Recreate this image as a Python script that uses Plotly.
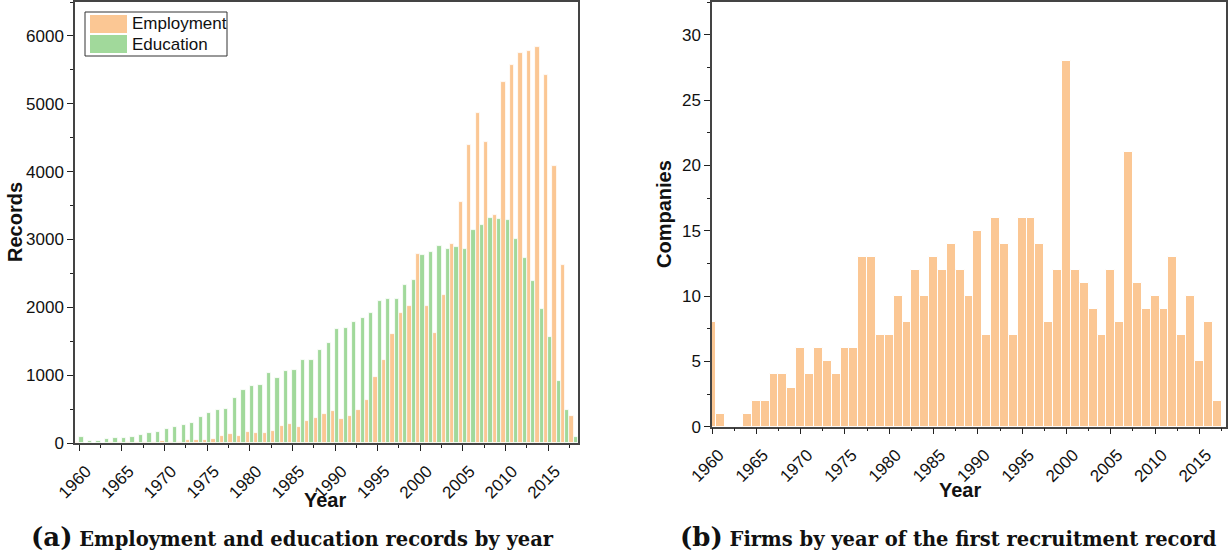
import plotly.graph_objects as go

W, H = 1228, 554


def px(x):
    return x / W


def py(y):
    return 1 - y / H


years_a = list(range(1960, 2019))
employment = [8, 3, 5, 5, 8, 10, 12, 18, 22, 20, 28, 22, 20, 42, 38, 45, 52, 108, 133, 98,
              162, 148, 152, 182, 246, 285, 241, 330, 369, 428, 477, 349, 403, 492, 635, 969,
              1230, 1609, 1919, 2012, 2780, 2017, 1619, 2180, 2927, 3557, 4388, 4866, 4433,
              3360, 5318, 5569, 5747, 5781, 5830, 5427, 4079, 2622, 394]
education = [88, 25, 34, 54, 69, 79, 88, 123, 152, 162, 211, 231, 261, 295, 389, 438, 482,
             502, 664, 777, 836, 861, 1033, 954, 1058, 1082, 1230, 1230, 1377, 1476, 1683,
             1697, 1786, 1840, 1919, 2091, 2120, 2116, 2327, 2396, 2770, 2814, 2903, 2863,
             2883, 2858, 3139, 3208, 3321, 3296, 3291, 3011, 2731, 2381, 1973, 1565, 920,
             492, 93]

years_b = list(range(1960, 2018))
companies = [8, 1, 0, 0, 1, 2, 2, 4, 4, 3, 6, 4, 6, 5, 4, 6, 6, 13, 13, 7, 7, 10, 8, 12,
             10, 13, 12, 14, 12, 10, 15, 7, 16, 14, 7, 16, 16, 14, 8, 12, 28, 12, 11, 9, 7,
             12, 8, 21, 11, 9, 10, 9, 13, 7, 10, 5, 8, 2]

series_names = ["Employment", "Education"]
x_ticks = list(range(1960, 2016, 5))

ORANGE = "#FBC794"
GREEN = "#A1D99B"
AXC = "#444444"
FONT = "Liberation Sans, Arial, sans-serif"

fig = go.Figure()
fig.add_trace(go.Bar(x=years_a, y=employment, name=series_names[0], marker_color=ORANGE,
                     marker_line=dict(color="white", width=0.8), xaxis="x", yaxis="y",
                     offsetgroup="emp", showlegend=False))
fig.add_trace(go.Bar(x=years_a, y=education, name=series_names[1], marker_color=GREEN,
                     marker_line=dict(color="white", width=0.8), xaxis="x", yaxis="y",
                     offsetgroup="edu", showlegend=False))
fig.add_trace(go.Bar(x=years_b, y=companies, name="Companies", marker_color=ORANGE,
                     marker_line=dict(color="white", width=1), xaxis="x2", yaxis="y2",
                     width=1, offset=-0.5, showlegend=False))


def xaxis_common(dom, rng):
    return dict(domain=dom, range=rng, tickmode="array", tickvals=x_ticks,
                ticktext=[str(v) for v in x_ticks], tickangle=-45, automargin=False,
                ticks="outside", ticklen=6, tickwidth=1.2, tickcolor="#222",
                ticklabelshift=7, ticklabelstandoff=4,
                showline=True, linecolor=AXC, linewidth=1.5, mirror=True,
                showgrid=False, zeroline=False,
                tickfont=dict(family=FONT, size=17, color="#111"),
                minor=dict(tickmode="linear", tick0=1960, dtick=2.5, ticks="outside",
                           ticklen=3, tickwidth=1, tickcolor="#222", showgrid=False))


def yaxis_common(dom, rng, dtick, mdtick, anchor):
    return dict(domain=dom, range=rng, dtick=dtick, tick0=0, anchor=anchor,
                automargin=False,
                ticks="outside", ticklen=6, tickwidth=1.2, tickcolor="#222",
                showline=True, linecolor=AXC, linewidth=1.5, mirror=True,
                showgrid=False, zeroline=False,
                tickfont=dict(family=FONT, size=17, color="#111"),
                minor=dict(dtick=mdtick, ticks="outside", ticklen=3, tickwidth=1,
                           tickcolor="#222", showgrid=False))


xa = xaxis_common([px(75), px(578)], [1959.5, 2018.5])
xa["anchor"] = "y"
xb = xaxis_common([px(712), px(1226)], [1960, 2018])
xb["anchor"] = "y2"
ya = yaxis_common([py(443), py(2)], [0, 6500], 1000, 500, "x")
yb = yaxis_common([py(426.7), py(2)], [0, 32.5], 5, 2.5, "x2")

annotations = [
    dict(text="<b>Records</b>", x=px(15), y=py(222), textangle=-90),
    dict(text="<b>Year</b>", x=px(325), y=py(500)),
    dict(text="<b>Companies</b>", x=px(664), y=py(214), textangle=-90),
    dict(text="<b>Year</b>", x=px(960), y=py(490)),
]
annotations = [dict(a, xref="paper", yref="paper", showarrow=False, xanchor="center",
                    yanchor="middle", font=dict(family=FONT, size=20, color="#111"))
               for a in annotations]

# legend (custom box)
shapes = [
    dict(type="rect", xref="paper", yref="paper", x0=px(85), x1=px(227),
         y0=py(56), y1=py(12), line=dict(color="#333", width=1),
         fillcolor="white", layer="above"),
    dict(type="rect", xref="paper", yref="paper", x0=px(90), x1=px(127),
         y0=py(33), y1=py(15), line=dict(width=0), fillcolor=ORANGE, layer="above"),
    dict(type="rect", xref="paper", yref="paper", x0=px(90), x1=px(127),
         y0=py(53), y1=py(35), line=dict(width=0), fillcolor=GREEN, layer="above"),
]
for name, yc in zip(series_names, [24, 44]):
    annotations.append(dict(text=name, xref="paper", yref="paper", x=px(130), y=py(yc),
                            xanchor="left", yanchor="middle", showarrow=False,
                            font=dict(family=FONT, size=17, color="#111")))

SERIF = "DejaVu Serif, serif"
captions = [
    ("(a)", "Employment and education records by year", 292),
    ("(b)", "Firms by year of the first recruitment record", 948),
]
for tag, txt, xc in captions:
    annotations.append(dict(
        text=f"<b><span style='font-size:26px'>{tag}</span> {txt}</b>",
        xref="paper", yref="paper", x=px(xc), y=py(537), xanchor="center",
        yanchor="middle", showarrow=False,
        font=dict(family=SERIF, size=19.5, color="#111")))

fig.update_layout(
    width=W, height=H, margin=dict(l=0, r=0, t=0, b=0),
    paper_bgcolor="white", plot_bgcolor="white",
    barmode="group", bargap=0, bargroupgap=0,
    xaxis=xa, yaxis=ya, xaxis2=xb, yaxis2=yb,
    annotations=annotations, shapes=shapes,
)

fig.write_html("out.html", config={"displayModeBar": False},
               post_script="document.body.style.margin='0px';")
